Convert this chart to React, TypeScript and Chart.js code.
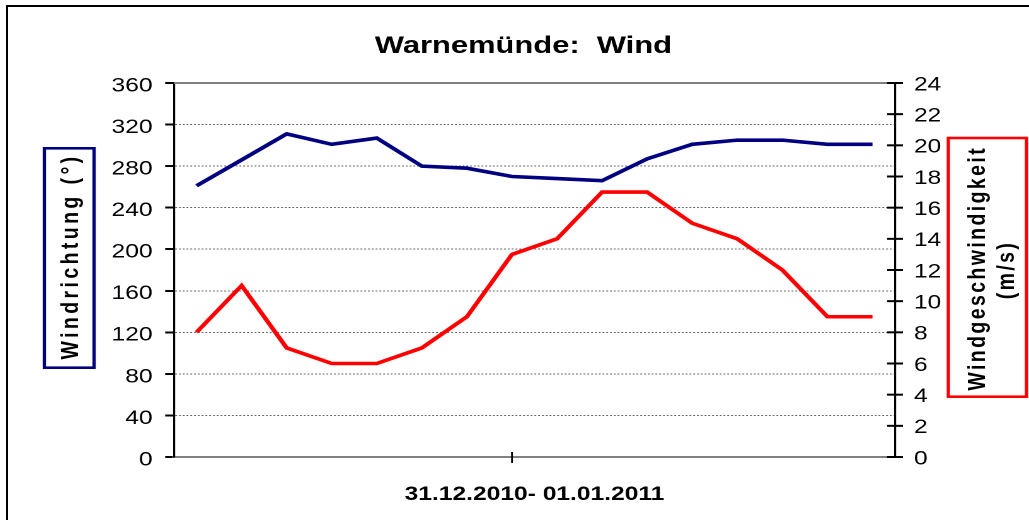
import React, { useEffect, useRef } from "react";
import { Chart, registerables } from "chart.js";

Chart.register(...registerables);
Chart.defaults.font.family = "'Liberation Sans', Arial, Helvetica, sans-serif";

// ---- data ----
const categories = [
  "31.12. 00:00", "31.12. 03:00", "31.12. 06:00", "31.12. 09:00",
  "31.12. 12:00", "31.12. 15:00", "31.12. 18:00", "31.12. 21:00",
  "01.01. 00:00", "01.01. 03:00", "01.01. 06:00", "01.01. 09:00",
  "01.01. 12:00", "01.01. 15:00", "01.01. 18:00", "01.01. 21:00",
];
const windDirection = [261, 286, 311, 301, 307, 280, 278, 270, 268, 266, 287, 301, 305, 305, 301, 301];
const windSpeed = [8, 11, 7, 6, 6, 7, 9, 13, 14, 17, 17, 15, 14, 12, 9, 9];
const directionTicks = [0, 40, 80, 120, 160, 200, 240, 280, 320, 360];
const speedTicks = [0, 2, 4, 6, 8, 10, 12, 14, 16, 18, 20, 22, 24];
const dayBreakIndex = 7;

const chartTitle = "Warnemünde:  Wind";
const xTitle = "31.12.2010- 01.01.2011";
const leftTitle = "Windrichtung (°)";
const rightTitleLines = ["Windgeschwindigkeit", "(m/s)"];

// ---- layout (logical canvas is stretched horizontally like the original image) ----
const CANVAS_W = 810;
const CANVAS_H = 513;
const STRETCH = 1021 / CANVAS_W;
const FONT = "'Liberation Sans', Arial, Helvetica, sans-serif";

function drawRotated(ctx: CanvasRenderingContext2D, text: string, x: number, y: number, font: string, color: string, spacing: number) {
  ctx.save();
  ctx.translate(x, y);
  ctx.rotate(-Math.PI / 2);
  ctx.font = font;
  ctx.fillStyle = color;
  ctx.textAlign = "center";
  ctx.textBaseline = "middle";
  (ctx as any).letterSpacing = spacing + "px";
  ctx.fillText(text, 0, 0);
  ctx.restore();
}

const decorPlugin = {
  id: "decor",
  beforeDatasetsDraw(chart: any) {
    const { ctx, chartArea } = chart;
    ctx.save();
    ctx.strokeStyle = "#808080";
    ctx.lineWidth = 2;
    ctx.beginPath();
    ctx.moveTo(chartArea.left, chartArea.top);
    ctx.lineTo(chartArea.right, chartArea.top);
    ctx.stroke();
    ctx.restore();
  },
  afterDraw(chart: any) {
    const { ctx, chartArea, scales } = chart;
    const r = scales.y1;
    const x = scales.x;
    ctx.save();
    ctx.strokeStyle = "#000";
    ctx.lineWidth = 2;
    for (const t of r.ticks) {
      const py = r.getPixelForValue(t.value);
      ctx.beginPath();
      ctx.moveTo(r.left - 6.3, py);
      ctx.lineTo(r.left + 6.3, py);
      ctx.stroke();
    }
    const px = x.getPixelForValue(dayBreakIndex);
    ctx.lineWidth = 1.4;
    ctx.beginPath();
    ctx.moveTo(px, chartArea.bottom - 5);
    ctx.lineTo(px, chartArea.bottom + 6);
    ctx.stroke();

    // left axis title box
    ctx.lineWidth = 2.6;
    ctx.strokeStyle = "#000080";
    ctx.strokeRect(28.8, 141.3, 39.5, 219.4);
    drawRotated(ctx, leftTitle, 50, 249.5, `bold 19.5px ${FONT}`, "#000", 3.4);

    // right axis title box
    ctx.strokeStyle = "#FF0000";
    ctx.strokeRect(746, 131, 62, 258.7);
    drawRotated(ctx, rightTitleLines[0], 769.4, 261.3, `bold 19.5px ${FONT}`, "#000", 2.4);
    drawRotated(ctx, rightTitleLines[1], 792.7, 263, `bold 19.5px ${FONT}`, "#000", 2.4);
    ctx.restore();
  },
};

export default function App() {
  const ref = useRef<HTMLCanvasElement>(null);

  useEffect(() => {
    const chart = new Chart(ref.current!, {
      type: "line",
      data: {
        labels: categories,
        datasets: [
          {
            label: leftTitle,
            data: windDirection,
            borderColor: "#000080",
            backgroundColor: "#000080",
            borderWidth: 3.6,
            pointRadius: 0,
            tension: 0,
            fill: false,
            yAxisID: "y",
          },
          {
            label: rightTitleLines.join(" "),
            data: windSpeed,
            borderColor: "#FF0000",
            backgroundColor: "#FF0000",
            borderWidth: 3.6,
            pointRadius: 0,
            tension: 0,
            fill: false,
            yAxisID: "y1",
          },
        ],
      },
      options: {
        responsive: false,
        animation: false,
        devicePixelRatio: 2,
        layout: { padding: { top: 10, left: 7.8, right: 0, bottom: 0 } },
        plugins: {
          legend: { display: false },
          tooltip: { enabled: false },
          title: {
            display: true,
            text: chartTitle,
            color: "#000",
            font: { size: 24.5, weight: "bold" },
            padding: { top: 14.3, bottom: 22.3 },
          },
        },
        scales: {
          x: {
            type: "category",
            offset: true,
            ticks: { display: false },
            grid: { display: true, drawOnChartArea: false, drawTicks: false },
            border: { display: true, color: "#808080", width: 2 },
            title: {
              display: true,
              text: xTitle,
              color: "#000",
              font: { size: 19.5, weight: "bold" },
              padding: { top: 0, bottom: 13.6 },
            },
            afterFit(s: any) {
              s.height = 63;
            },
          },
          y: {
            position: "left",
            min: 0,
            max: 360,
            afterBuildTicks(s: any) {
              s.ticks = directionTicks.map((v) => ({ value: v }));
            },
            ticks: { color: "#000", font: { size: 19.5 }, padding: 10, labelOffset: 3 },
            grid: {
              color: "#666",
              lineWidth: 1,
              drawTicks: true,
              tickLength: 7,
              tickColor: "#000",
              tickWidth: 2,
              tickBorderDash: [],
            },
            border: { display: true, color: "#000", width: 1.6, dash: [1.5, 1.5] },
            afterFit(s: any) {
              s.width = 123.9;
            },
          },
          y1: {
            position: "right",
            min: 0,
            max: 24,
            afterBuildTicks(s: any) {
              s.ticks = speedTicks.map((v) => ({ value: v }));
            },
            ticks: { color: "#000", font: { size: 19.5 }, padding: 15, labelOffset: 2 },
            grid: { display: true, drawOnChartArea: false, drawTicks: false },
            border: { display: true, color: "#000", width: 1.6 },
            afterFit(s: any) {
              s.width = CANVAS_W - 703.7;
            },
          },
        },
      },
      plugins: [decorPlugin],
    } as any);
    return () => chart.destroy();
  }, []);

  return (
    <div
      style={{
        position: "absolute",
        left: 6,
        top: 5,
        width: 1023,
        height: 515,
        boxSizing: "border-box",
        borderLeft: "2px solid #000",
        borderTop: "2px solid #000",
        overflow: "hidden",
        background: "#fff",
      }}
    >
      <div
        style={{
          width: CANVAS_W,
          height: CANVAS_H,
          transform: `scaleX(${STRETCH})`,
          transformOrigin: "0 0",
        }}
      >
        <canvas ref={ref} width={CANVAS_W} height={CANVAS_H} />
      </div>
    </div>
  );
}
